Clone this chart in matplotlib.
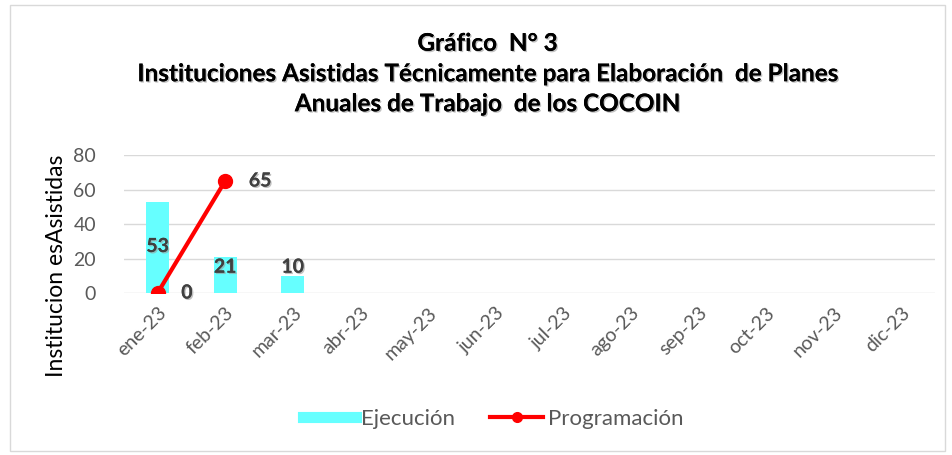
import matplotlib
matplotlib.use("Agg")
import matplotlib.pyplot as plt
import matplotlib.patheffects as pe
from matplotlib.patches import Rectangle
from matplotlib.lines import Line2D
import numpy as np

categories = ["ene-23", "feb-23", "mar-23", "abr-23", "may-23", "jun-23",
              "jul-23", "ago-23", "sep-23", "oct-23", "nov-23", "dic-23"]
ejecucion = [53, 21, 10]
programacion = [0, 65]
yticks = [0, 20, 40, 60, 80]

fig = plt.figure(figsize=(9.52, 4.55), dpi=100)
fig.patches.append(Rectangle((0.011, 0.008), 0.982, 0.98, transform=fig.transFigure,
                             fill=False, edgecolor="#d9d9d9", linewidth=1))
ax = fig.add_axes([0.130, 0.356, 0.852, 0.303])

x = np.arange(len(categories))
bx = np.arange(len(ejecucion))
ax.bar(bx, ejecucion, width=0.34, color="#66FFFF", zorder=2)
px = np.arange(len(programacion))
ax.plot(px, programacion, color="#FF0000", linewidth=3, marker="o", markersize=10, zorder=3)

shadow = [pe.withSimplePatchShadow(offset=(1, -1), shadow_rgbFace="#999999", alpha=0.6), pe.Normal()]
lab_y = [27, 15, 15]
for i, v in enumerate(ejecucion):
    ax.text(i, lab_y[i], str(v), ha="center", va="center", fontsize=14, fontweight="bold",
            color="#404040", family="Lato", path_effects=shadow, zorder=4)
for i, v in enumerate(programacion):
    ax.text(i + 0.35, v, str(v), ha="left", va="center", fontsize=14, fontweight="bold",
            color="#404040", family="Lato", path_effects=shadow, zorder=4)

ax.set_xlim(-0.5, len(categories) - 0.5)
ax.set_ylim(0, 80)
ax.set_yticks(yticks)
ax.set_xticks(x)
ax.set_xticklabels(categories, rotation=45, ha="right", rotation_mode="anchor")
ax.tick_params(axis="x", length=0, labelsize=14, labelcolor="#595959", pad=8)
ax.tick_params(axis="y", length=0, labelsize=14, labelcolor="#595959", pad=20)
for lab in ax.get_xticklabels() + ax.get_yticklabels():
    lab.set_family("Lato")
ax.grid(axis="y", color="#d9d9d9", linewidth=1, zorder=0)
for s in ax.spines.values():
    s.set_visible(False)

fig.text(0.059, 1 - 266 / 455, "Institucion esAsistidas", rotation=90, ha="center", va="center",
         fontsize=16.5, color="#000000", family="Lato")

title_lines = ["Gráfico  N° 3",
               "Instituciones Asistidas Técnicamente para Elaboración  de Planes",
               "Anuales de Trabajo  de los COCOIN"]
ys = [0.905, 0.838, 0.772]
for t, yy in zip(title_lines, ys):
    fig.text(0.512, yy, t, ha="center", va="center", fontsize=17.5, fontweight="bold",
             family="Lato", color="#000000", path_effects=shadow)

handles = [Line2D([], [], color="#66FFFF", linewidth=8),
           Line2D([], [], color="#FF0000", linewidth=3, marker="o", markersize=7)]
leg = fig.legend(handles, ["Ejecución", "Programación"], loc="center",
                 bbox_to_anchor=(0.518, 0.08), ncol=2, frameon=False,
                 fontsize=16, handlelength=2.4, columnspacing=1.6, handletextpad=0.2)
for t in leg.get_texts():
    t.set_color("#595959")
    t.set_family("Lato")

fig.savefig("out.png", dpi=100)
